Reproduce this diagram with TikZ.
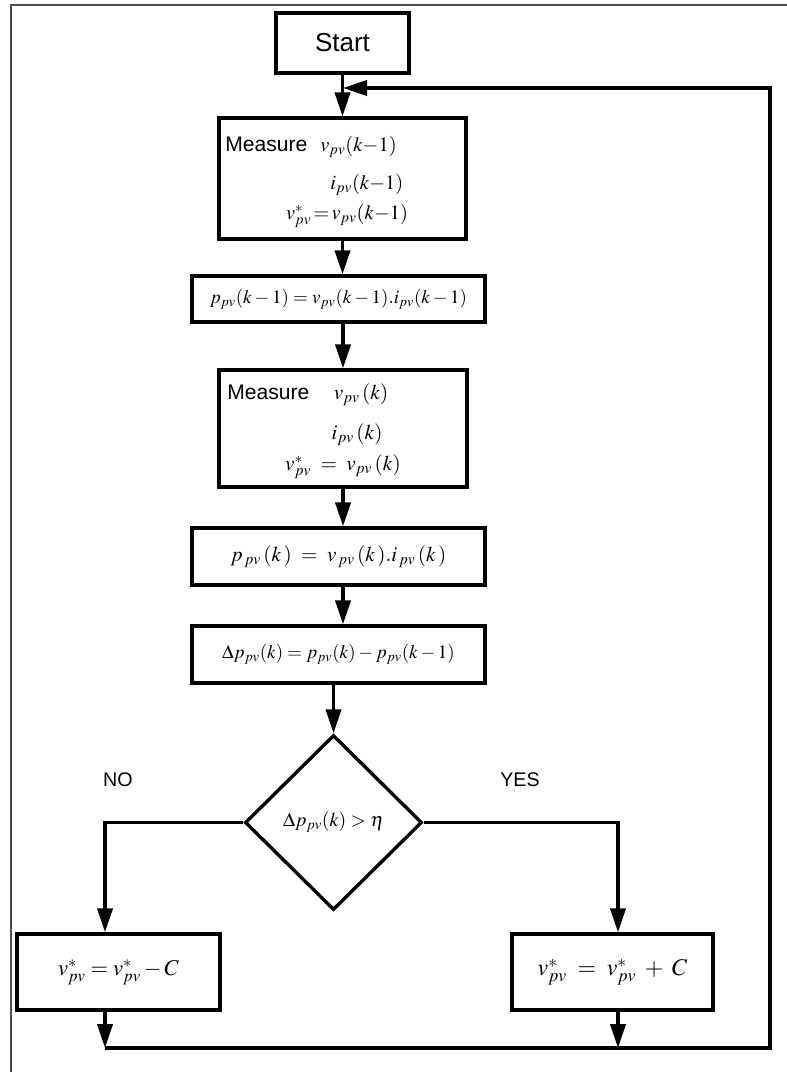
\documentclass[tikz,border=0pt]{standalone}
\usepackage{mathptmx}
\usepackage[no-math]{fontspec}
\newfontfamily\flowsans{Liberation Sans}
\usepackage{tikz}
\usetikzlibrary{arrows.meta, shapes.geometric}

\begin{document}
\begin{tikzpicture}[x=0.025cm, y=-0.025cm,
    procbox/.style={draw, line width=2.4pt, inner sep=0pt},
    decbox/.style={draw, diamond, line width=2.4pt, inner sep=0pt, aspect=1},
    flow/.style={-{Triangle[length=0.6cm, width=0.38cm]}, line width=2.4pt},
    sanslbl/.style={font=\flowsans\fontsize{15}{17}\selectfont, inner sep=0pt},
    mathlbl/.style={font=\fontsize{14.5}{16}\selectfont, inner sep=0pt}]
  \useasboundingbox (0,0) rectangle (787,1072);
  % open frame of the figure (top and left only)
  \draw[gray!60!black, line width=1.2pt] (11,1072) -- (11,5) -- (787,5);

  % main column
  \node[procbox, minimum width=3.325cm, minimum height=1.5cm, font=\flowsans\fontsize{18.5}{20}\selectfont]
    (start) at (342.5, 43) {Start};
  \node[procbox, minimum width=6.175cm, minimum height=3.025cm] (meas1) at (342.5, 178.5) {};
  \node[sanslbl, anchor=west] (m1lbl) at (225, 144) {Measure};
  \node[mathlbl, anchor=west] (m1v) at (320, 147) {$v_{pv}(k{-}1)$};
  \node[mathlbl, anchor=west] (m1i) at (330, 185) {$i_{pv}(k{-}1)$};
  \node[mathlbl] (m1s) at (347, 216) {$v^{*}_{pv}\,{=}\,v_{pv}(k{-}1)$};

  \node[procbox, minimum width=7.325cm, minimum height=1.15cm, font=\fontsize{13.5}{15}\selectfont]
    (calc1) at (338.5, 299) {$p_{pv}(k-1)=v_{pv}(k-1).i_{pv}(k-1)$};

  \node[procbox, minimum width=6.2cm, minimum height=2.925cm] (meas2) at (343, 428.5) {};
  \node[sanslbl, anchor=west] (m2lbl) at (227, 392) {Measure};
  \node[mathlbl, font=\fontsize{15}{17}\selectfont] (m2v) at (361, 395) {$v_{pv}\,(k)$};
  \node[mathlbl, font=\fontsize{15}{17}\selectfont] (m2i) at (357, 435) {$i_{pv}\,(k)$};
  \node[mathlbl, font=\fontsize{15}{17}\selectfont] (m2s) at (343, 467) {$v^{*}_{pv}\;=\;v_{pv}\,(k)$};

  \node[procbox, minimum width=7.325cm, minimum height=1.425cm, font=\fontsize{15}{17}\selectfont]
    (calc2) at (338.5, 556.5) {$p_{\,pv}\,(k\,)\;=\;v_{\,pv}\,(k\,).i_{\,pv}\,(k\,)$};
  \node[procbox, minimum width=7.325cm, minimum height=1.425cm, font=\fontsize{13.5}{15}\selectfont]
    (delta) at (338.5, 654.5) {$\Delta p_{pv}(k)=p_{pv}(k)-p_{pv}(k-1)$};

  % decision and branches
  \node[decbox, minimum width=4.425cm, minimum height=4.375cm, font=\fontsize{14}{16}\selectfont]
    (dec) at (333.5, 822.5) {$\Delta p_{pv}(k)>\eta$};
  \node[sanslbl, font=\flowsans\fontsize{14}{16}\selectfont] (nolbl) at (118, 780) {NO};
  \node[sanslbl, font=\flowsans\fontsize{14}{16}\selectfont] (yeslbl) at (520, 780) {YES};
  \node[procbox, minimum width=5.075cm, minimum height=1.9cm, font=\fontsize{16}{18}\selectfont]
    (nobox) at (118.5, 972) {$v^{*}_{pv}=v^{*}_{pv}-C$};
  \node[procbox, minimum width=5.025cm, minimum height=1.9cm, font=\fontsize{17}{19}\selectfont]
    (yesbox) at (612.5, 972) {$v^{*}_{pv}\;=\;v^{*}_{pv}\;+\;C$};

  \coordinate (noturn) at (105, 822.5);
  \coordinate (yesturn) at (618, 822.5);
  \coordinate (bl) at (105, 1048);
  \coordinate (br) at (618, 1048);
  \coordinate (corner1) at (770, 1048);
  \coordinate (corner2) at (770, 88);
  \coordinate (merge) at (343, 88);

  % arrows down the column
  \draw[flow] (start) -- (meas1);
  \draw[flow] (meas1.south) -- (meas1.south |- calc1.north);
  \draw[flow] (calc1.south -| meas2) -- (meas2.north);
  \draw[flow] (meas2.south) -- (meas2.south |- calc2.north);
  \draw[flow] (calc2.south -| meas2) -- (delta.north -| meas2);
  \draw[flow] (delta.south -| dec) -- (dec.north);
  % branches
  \draw[flow] (dec.west) -- (noturn) -- (noturn |- nobox.north);
  \draw[flow] (dec.east) -- (yesturn) -- (yesturn |- yesbox.north);
  \draw[flow] (nobox.south -| bl) -- (bl);
  \draw[flow] (yesbox.south -| br) -- (br);
  % loop back
  \draw[flow] (bl) -- (corner1) -- (corner2) -- (merge);
\end{tikzpicture}
\end{document}
